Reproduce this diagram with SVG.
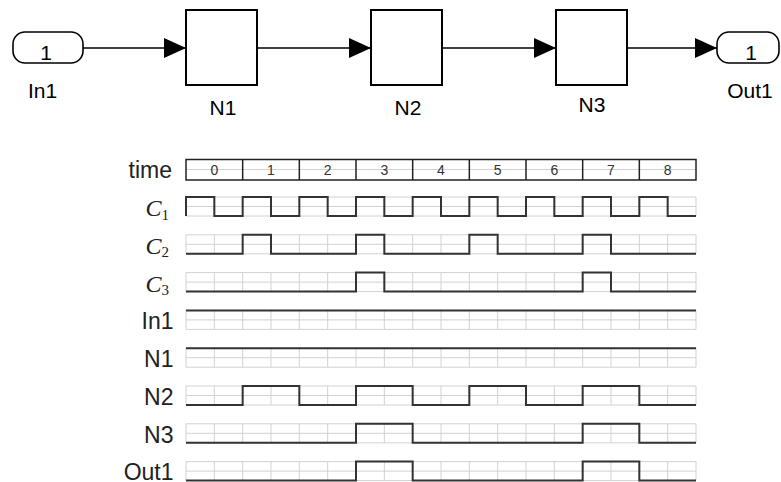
<svg xmlns="http://www.w3.org/2000/svg" xmlns:xlink="http://www.w3.org/1999/xlink" width="781" height="482" viewBox="0 0 781 482">
<style>
.blk{fill:#fff;stroke:#000;stroke-width:2}
.port{fill:#fff;stroke:#000;stroke-width:1.6}
.bl{font-family:"Liberation Sans",Arial,sans-serif;font-size:21px;fill:#000;text-anchor:middle}
.wire{fill:none;stroke:#000;stroke-width:1.5}
.grid{fill:none;stroke:#d2d2d2;stroke-width:1}
.sig{fill:none;stroke:#333;stroke-width:2}
.lab{font-family:"Liberation Sans",Arial,sans-serif;font-size:23px;fill:#222;text-anchor:end}
.clab{font-family:"Liberation Serif","Times New Roman",serif;font-size:24px;font-style:italic;fill:#222;text-anchor:end}
.sub{font-style:normal;font-size:15px}
.dig{font-family:"Liberation Sans",Arial,sans-serif;font-size:14px;fill:#333;text-anchor:middle}
</style>
<defs>
<marker id="arr" markerUnits="userSpaceOnUse" markerWidth="22" markerHeight="20" refX="22" refY="10" orient="auto">
<path d="M0,0 L22,10 L0,20 Z" fill="#000"/>
</marker>
<path id="gr" class="grid" d="M186,0H696M186,9.5H696M186,19H696M186,0V19M214.33,0V19M242.67,0V19M271,0V19M299.33,0V19M327.67,0V19M356,0V19M384.33,0V19M412.67,0V19M441,0V19M469.33,0V19M497.67,0V19M526,0V19M554.33,0V19M582.67,0V19M611,0V19M639.33,0V19M667.67,0V19M696,0V19"/>
</defs>
<rect width="781" height="482" fill="#fff"/>

<g id="connectors">
<path class="wire" d="M83,48H186" marker-end="url(#arr)"/>
<path class="wire" d="M257,48H371" marker-end="url(#arr)"/>
<path class="wire" d="M442,48H556" marker-end="url(#arr)"/>
<path class="wire" d="M627,48H717" marker-end="url(#arr)"/>
</g>

<g id="In1">
<rect class="port" x="13" y="32" width="70" height="31" rx="12" ry="12"/>
<text class="bl" x="46" y="60">1</text>
<text class="bl" x="42.5" y="98">In1</text>
</g>
<g id="N1">
<rect class="blk" x="186" y="10" width="71" height="75"/>
<text class="bl" x="223" y="115">N1</text>
</g>
<g id="N2">
<rect class="blk" x="371" y="10" width="71" height="75"/>
<text class="bl" x="408" y="115">N2</text>
</g>
<g id="N3">
<rect class="blk" x="556" y="10" width="71" height="75"/>
<text class="bl" x="592" y="112">N3</text>
</g>
<g id="Out1">
<rect class="port" x="717" y="32" width="62" height="31" rx="12" ry="12"/>
<text class="bl" x="751" y="60">1</text>
<text class="bl" x="750" y="98">Out1</text>
</g>

<g id="timing">
<g id="time-row">
<text class="lab" x="172" y="178">time</text>
<path class="grid" d="M186,169.5H696"/>
<rect x="186" y="159.5" width="510" height="20.5" fill="none" stroke="#222" stroke-width="1.5"/>
<path fill="none" stroke="#222" stroke-width="1.5" d="M242.67,159.5V180M299.33,159.5V180M356,159.5V180M412.67,159.5V180M469.33,159.5V180M526,159.5V180M582.67,159.5V180M639.33,159.5V180"/>
<text class="dig" x="214.33" y="174.5">0</text>
<text class="dig" x="271" y="174.5">1</text>
<text class="dig" x="327.67" y="174.5">2</text>
<text class="dig" x="384.33" y="174.5">3</text>
<text class="dig" x="441" y="174.5">4</text>
<text class="dig" x="497.67" y="174.5">5</text>
<text class="dig" x="554.33" y="174.5">6</text>
<text class="dig" x="611" y="174.5">7</text>
<text class="dig" x="667.67" y="174.5">8</text>
</g>

<g id="C1-row" transform="translate(0,197)">
<use xlink:href="#gr" href="#gr"/>
<path class="sig" d="M186,19V0H214.33V19H242.67V0H271V19H299.33V0H327.67V19H356V0H384.33V19H412.67V0H441V19H469.33V0H497.67V19H526V0H554.33V19H582.67V0H611V19H639.33V0H667.67V19H696"/>
<text class="clab" x="169" y="19">C<tspan class="sub" dy="3.5">1</tspan></text>
</g>
<g id="C2-row" transform="translate(0,234.8)">
<use xlink:href="#gr" href="#gr"/>
<path class="sig" d="M186,19H242.67V0H271V19H356V0H384.33V19H469.33V0H497.67V19H582.67V0H611V19H696"/>
<text class="clab" x="169" y="19">C<tspan class="sub" dy="3.5">2</tspan></text>
</g>
<g id="C3-row" transform="translate(0,272.6)">
<use xlink:href="#gr" href="#gr"/>
<path class="sig" d="M186,19H356V0H384.33V19H582.67V0H611V19H696"/>
<text class="clab" x="169" y="19">C<tspan class="sub" dy="3.5">3</tspan></text>
</g>
<g id="In1-row" transform="translate(0,310.4)">
<use xlink:href="#gr" href="#gr"/>
<path class="sig" d="M186,0H696"/>
<text class="lab" x="173.5" y="19">In1</text>
</g>
<g id="N1-row" transform="translate(0,348.2)">
<use xlink:href="#gr" href="#gr"/>
<path class="sig" d="M186,0H696"/>
<text class="lab" x="173.5" y="19">N1</text>
</g>
<g id="N2-row" transform="translate(0,386)">
<use xlink:href="#gr" href="#gr"/>
<path class="sig" d="M186,19H242.67V0H299.33V19H356V0H412.67V19H469.33V0H526V19H582.67V0H639.33V19H696"/>
<text class="lab" x="173.5" y="19">N2</text>
</g>
<g id="N3-row" transform="translate(0,423.8)">
<use xlink:href="#gr" href="#gr"/>
<path class="sig" d="M186,19H356V0H412.67V19H582.67V0H639.33V19H696"/>
<text class="lab" x="173.5" y="19">N3</text>
</g>
<g id="Out1-row" transform="translate(0,461.6)">
<use xlink:href="#gr" href="#gr"/>
<path class="sig" d="M186,19H356V0H412.67V19H582.67V0H639.33V19H696"/>
<text class="lab" x="173.5" y="18">Out1</text>
</g>
</g>
</svg>
